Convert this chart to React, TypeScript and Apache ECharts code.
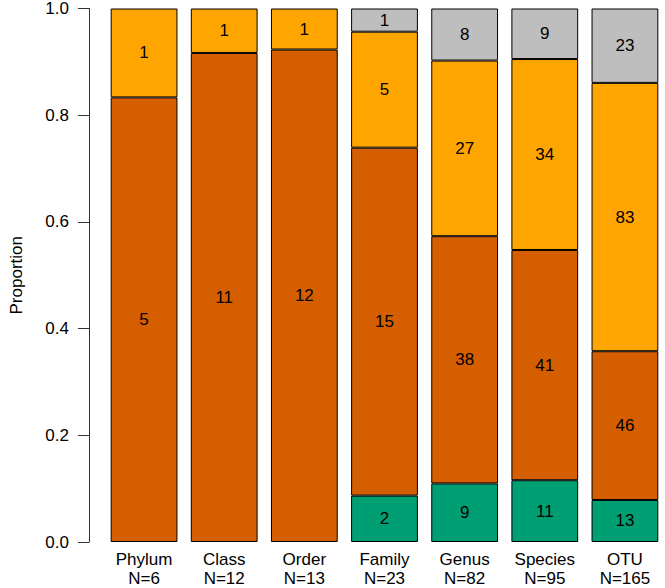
import React, { useEffect, useRef } from "react";
import * as echarts from "echarts";

const categories = ["Phylum", "Class", "Order", "Family", "Genus", "Species", "OTU"];
const greenCounts = [0, 0, 0, 2, 9, 11, 13];
const darkOrangeCounts = [5, 11, 12, 15, 38, 41, 46];
const orangeCounts = [1, 1, 1, 5, 27, 34, 83];
const greyCounts = [0, 0, 0, 1, 8, 9, 23];
const yTicks = [0, 0.2, 0.4, 0.6, 0.8, 1.0];

const FONT = "'Liberation Sans', Arial, Helvetica, sans-serif";

export default function App() {
  const ref = useRef<HTMLDivElement>(null);
  useEffect(() => {
    if (!ref.current) return;
    const chart = echarts.init(ref.current, undefined, { renderer: "svg" });
    const totals = categories.map(
      (_, i) => greenCounts[i] + darkOrangeCounts[i] + orangeCounts[i] + greyCounts[i]
    );
    const mk = (name: string, counts: number[], color: string) => ({
      name,
      type: "bar",
      stack: "all",
      barCategoryGap: "16.67%",
      data: counts.map((c, i) => (c > 0 ? { value: c / totals[i], count: c } : null)),
      itemStyle: { color, borderColor: "#000", borderWidth: 1 },
      label: {
        show: true,
        position: "inside",
        color: "#000",
        fontSize: 17,
        fontFamily: FONT,
        formatter: (p: any) => String(p.data.count),
      },
    });
    chart.setOption({
      animation: false,
      grid: { left: 95, top: 6, width: 576, height: 537 },
      xAxis: {
        type: "category",
        data: categories,
        axisLine: { show: false },
        axisTick: { show: false },
        axisLabel: {
          margin: 8,
          color: "#000",
          fontSize: 17,
          lineHeight: 19,
          fontFamily: FONT,
          interval: 0,
          formatter: (v: string, i: number) => `${v}\nN=${totals[i]}`,
        },
      },
      yAxis: {
        type: "value",
        min: yTicks[0],
        max: yTicks[yTicks.length - 1],
        interval: 0.2,
        offset: 15,
        name: "Proportion",
        nameLocation: "middle",
        nameRotate: 90,
        nameGap: 64,
        nameTextStyle: { color: "#000", fontSize: 17, fontFamily: FONT },
        axisLine: { show: true, lineStyle: { color: "#333", width: 1 } },
        axisTick: { show: true, length: 11, lineStyle: { color: "#333", width: 1 } },
        splitLine: { show: false },
        axisLabel: {
          margin: 20,
          color: "#000",
          fontSize: 17,
          fontFamily: FONT,
          formatter: (v: number) => v.toFixed(1),
        },
      },
      series: [
        mk("green", greenCounts, "#009E73"),
        mk("darkorange", darkOrangeCounts, "#D55E00"),
        mk("orange", orangeCounts, "#FFA500"),
        mk("grey", greyCounts, "#BEBEBE"),
      ],
    });
    return () => chart.dispose();
  }, []);
  return (
    <div
      ref={ref}
      style={{ position: "fixed", left: 0, top: 0, width: 665, height: 588, background: "#fff" }}
    />
  );
}
